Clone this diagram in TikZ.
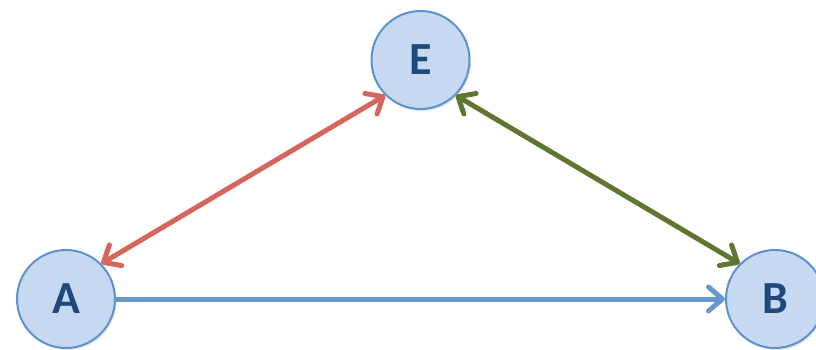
\documentclass[tikz,border=0pt]{standalone}
\usepackage{fontspec}
\setmainfont{Carlito}
\usetikzlibrary{arrows.meta,shadows}
\definecolor{nodefill}{RGB}{198,217,240}
\definecolor{nodeborder}{RGB}{91,146,207}
\definecolor{nodetext}{RGB}{31,73,125}
\definecolor{redarrow}{RGB}{212,102,94}
\definecolor{greenarrow}{RGB}{95,118,50}
\definecolor{bluearrow}{RGB}{103,152,205}
\tikzset{
  ball/.style={circle, draw=nodeborder, fill=nodefill, line width=2pt,
    minimum size=98pt, inner sep=0pt, text=nodetext,
    font=\bfseries\fontsize{46}{46}\selectfont,
    drop shadow={opacity=0.2, shadow xshift=1.5pt, shadow yshift=-2pt}},
  barbtip/.tip={Straight Barb[length=14pt,width=24pt,line width=5pt,line cap=round,round]},
  conn/.style={line width=5pt, line cap=round}
}
\begin{document}
\begin{tikzpicture}
\useasboundingbox (0,0) rectangle (816pt,-349pt);
\node[ball] (E) at (420.5pt,-60pt) {E};
\node[ball] (A) at (66pt,-299pt) {A};
\node[ball] (B) at (775pt,-299pt) {B};
\draw[conn, redarrow, barbtip-barbtip] (A.45) -- (E.225);
\draw[conn, greenarrow, barbtip-barbtip] (E.-45) -- (B.135);
\draw[conn, bluearrow, -barbtip] (A.east) -- (B.west);
\end{tikzpicture}
\end{document}
